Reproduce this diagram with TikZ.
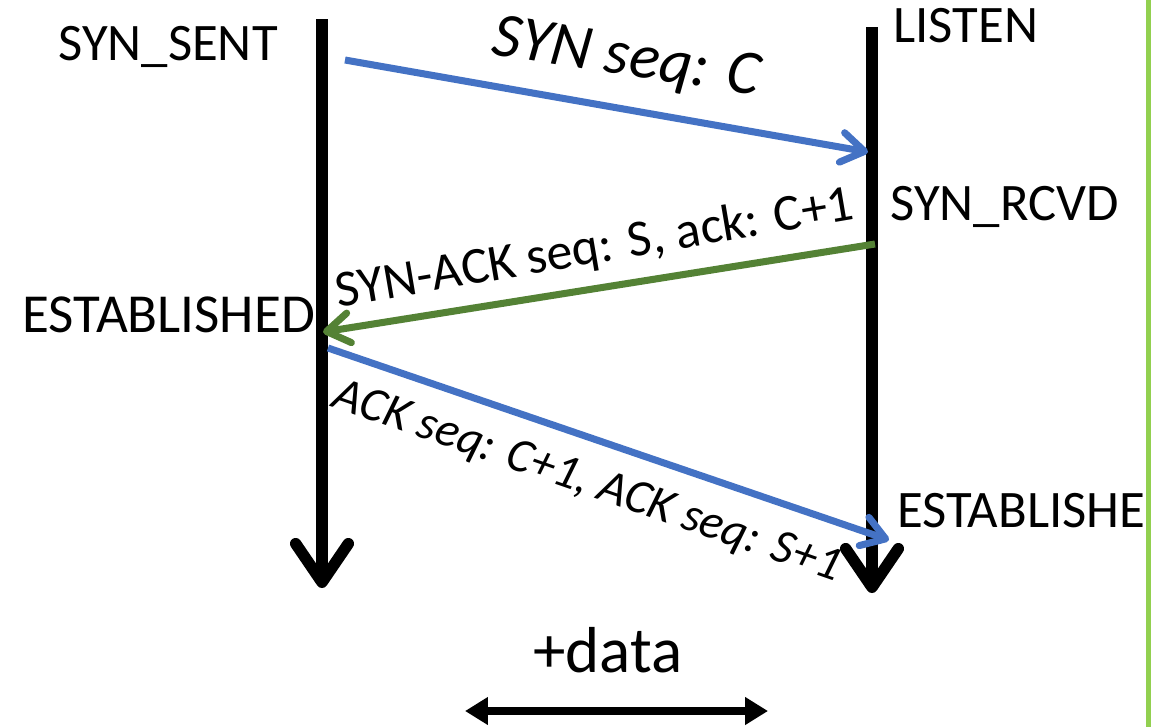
\documentclass[tikz,border=0pt]{standalone}
\usepackage{fontspec}
\setmainfont{Carlito}
\usepackage{tikz}
\usetikzlibrary{arrows.meta,positioning}
\definecolor{msgblue}{HTML}{4472C4}
\definecolor{msggreen}{HTML}{548235}
\definecolor{sidegreen}{HTML}{92D050}

\begin{document}
\begin{tikzpicture}[x=0.02cm,y=-0.02cm,
  timeline/.style={line width=6.5pt,-{Straight Barb[length=22pt,width=30pt,line width=6.5pt,round]}},
  msg/.style={line width=4pt,-{Straight Barb[length=13pt,width=17pt,line width=4pt,round]}},
  state/.style={font=\fontsize{30}{32}\selectfont,inner sep=0pt},
  label/.style={font=\fontsize{29.5}{31}\selectfont,inner sep=0pt,anchor=base}]
  \useasboundingbox (0,0) rectangle (1152,727);
  %timelines
  \coordinate (client top) at (322,19);
  \coordinate (client bottom) at (322,588);
  \coordinate (server top) at (872,27);
  \coordinate (server bottom) at (872,593);
  \draw[timeline] (client top) -- (client bottom);
  \draw[timeline] (server top) -- (server bottom);
  %states
  \node[state,anchor=base west] (syn sent) at (58,60) {SYN\_SENT};
  \node[state,anchor=base west] (listen) at (893,42) {LISTEN};
  \node[state,anchor=base west] (syn rcvd) at (890,220) {SYN\_RCVD};
  \node[state,anchor=base west,font=\fontsize{31.3}{33}\selectfont] (established c) at (22,332) {ESTABLISHED};
  \node[state,anchor=base west] (established s) at (897,527) {ESTABLISHE};
  %messages
  \coordinate (syn out) at (345,60);
  \coordinate (syn in) at (868,152);
  \coordinate (synack out) at (875,244);
  \coordinate (synack in) at (323,332);
  \coordinate (ack out) at (328,348);
  \coordinate (ack in) at (889,540);
  \draw[msg,msgblue] (syn out) -- (syn in);
  \draw[msg,msggreen] (synack out) -- (synack in);
  \draw[msg,msgblue] (ack out) -- (ack in);
  \node[label,rotate=-8.7,font=\fontsize{36}{38}\selectfont\itshape] (syn label) at (624,75) {SYN seq: C};
  \node[label,rotate=9.7] (synack label) at (597,263) {SYN-ACK seq: S, ack: C+1};
  \node[label,rotate=-19.1,font=\fontsize{27.6}{30}\selectfont\itshape] (ack label) at (583,494) {ACK seq: C+1, ACK seq: S+1};
  %data
  \node[label,font=\fontsize{37}{39}\selectfont] (data) at (608,672) {+data};
  \coordinate (data left) at (465,711);
  \coordinate (data right) at (768,711);
  \draw[line width=5pt,{Triangle[length=13pt,width=15pt]}-{Triangle[length=13pt,width=15pt]}] (data left) -- (data right);
  %side line
  \fill[sidegreen] (1146,0) rectangle (1151,727);
\end{tikzpicture}
\end{document}
